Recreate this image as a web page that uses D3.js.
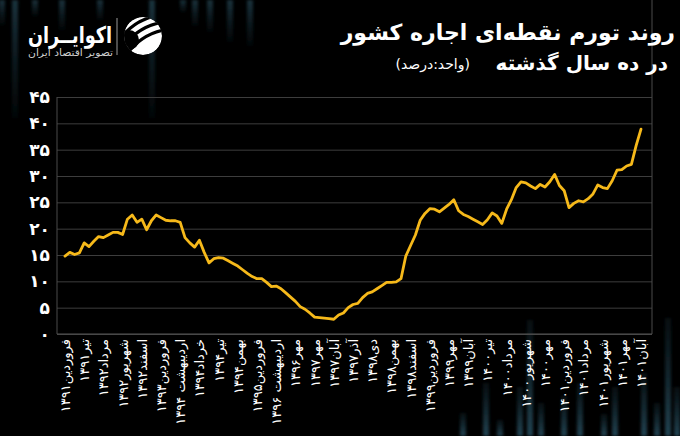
<!DOCTYPE html>
<html>
<head>
<meta charset="utf-8">
<script src="https://cdn.jsdelivr.net/npm/d3@7/dist/d3.min.js"></script>
<style>
  html, body { margin: 0; padding: 0; background: #000; }
  svg { display: block; }
  text { font-family: "DejaVu Sans", sans-serif; }
</style>
</head>
<body>
<svg id="chart" width="680" height="436"></svg>
<script>
// ---------- DATA ----------
const values = [
  14.8, 15.5, 15.1, 15.4, 17.3, 16.6, 17.6, 18.5, 18.3, 18.8,
  19.3, 19.3, 18.9, 21.8, 22.6, 21.2, 21.8, 19.8, 21.5, 22.6,
  22.1, 21.6, 21.5, 21.5, 21.2, 18.3, 17.3, 16.5, 17.8, 15.5,
  13.5, 14.3, 14.5, 14.4, 13.9, 13.4, 12.9, 12.2, 11.5, 10.9,
  10.5, 10.5, 9.8, 9.0, 9.1, 8.6, 7.8, 7.0, 6.2, 5.2,
  4.7, 4.0, 3.2, 3.1, 3.0, 2.9, 2.8, 3.6, 4.0, 5.0,
  5.6, 5.8, 6.9, 7.7, 8.0, 8.6, 9.2, 9.8, 9.8, 9.9,
  10.5, 14.8, 16.8, 18.8, 21.6, 22.9, 23.8, 23.7, 23.2, 23.9,
  24.6, 25.5, 23.4, 22.7, 22.3, 21.8, 21.3, 20.8, 21.7, 23.0,
  22.4, 21.0, 23.7, 25.5, 27.8, 28.9, 28.7, 28.1, 27.6, 28.4,
  27.9, 28.9, 30.3, 28.2, 27.2, 24.0, 24.8, 25.3, 25.1, 25.7,
  26.6, 28.3, 27.8, 27.6, 29.1, 31.1, 31.2, 31.9, 32.2, 35.8,
  38.9
];
const xTickLabels = [
  "فروردین۱۳۹۱", "تیر۱۳۹۱", "مرداد۱۳۹۲", "شهریور۱۳۹۲", "اسفند۱۳۹۲",
  "فروردین۱۳۹۳", "اردیبهشت ۱۳۹۴", "خرداد۱۳۹۴", "تیر۱۳۹۴", "بهمن۱۳۹۴",
  "فروردین۱۳۹۵", "اردیبهشت ۱۳۹۶", "مهر۱۳۹۶", "مهر۱۳۹۷", "آبان۱۳۹۷",
  "آذر۱۳۹۷", "دی۱۳۹۸", "بهمن۱۳۹۸", "اسفند۱۳۹۸", "فروردین۱۳۹۹",
  "مهر۱۳۹۹", "آبان۱۳۹۹", "تیر۱۴۰۰", "مرداد۱۴۰۰", "شهریور۱۴۰۰",
  "مهر۱۴۰۰", "فروردین۱۴۰۱", "مرداد۱۴۰۱", "شهریور۱۴۰۱", "مهر۱۴۰۱",
  "آبان۱۴۰۱"
];
const labelEvery = 4;
const yTicks = [0, 5, 10, 15, 20, 25, 30, 35, 40, 45];
const yTickLabels = ["۰", "۵", "۱۰", "۱۵", "۲۰", "۲۵", "۳۰", "۳۵", "۴۰", "۴۵"];
const titleLine1 = "روند تورم نقطه‌ای اجاره کشور";
const titleLine2 = "در ده سال گذشته";
const unitText = "(واحد:درصد)";
const brandName = "اکوایــران";
const brandTag = "تصویر اقتصاد ایران";

// decorative faint background bars (x position, top/bottom extent)
const decorTop = [[2,25],[15,118],[35,16],[62,30],[100,20],[152,118],[183,12],[195,26],[210,32],[230,42],[250,46]];
const decorBottom = [[463,413],[486,383],[500,420],[520,387],[530,320],[541,403],[564,396],[580,383],[604,414],[615,387],[644,373],[657,403],[668,318],[677,387]];

// ---------- LAYOUT ----------
const svg = d3.select("#chart");
const W = 680, H = 436;
const plot = { left: 57, right: 652, top: 97, bottom: 334 };

svg.append("rect").attr("width", W).attr("height", H).attr("fill", "#000");

const defs = svg.append("defs");
const gTop = defs.append("linearGradient").attr("id", "gTop").attr("x1", 0).attr("y1", 0).attr("x2", 0).attr("y2", 1);
gTop.append("stop").attr("offset", "0%").attr("stop-color", "#2a5466").attr("stop-opacity", 0.6);
gTop.append("stop").attr("offset", "100%").attr("stop-color", "#1b3a47").attr("stop-opacity", 0.1);
const gBot = defs.append("linearGradient").attr("id", "gBot").attr("x1", 0).attr("y1", 0).attr("x2", 0).attr("y2", 1);
gBot.append("stop").attr("offset", "0%").attr("stop-color", "#1b3a47").attr("stop-opacity", 0.25);
gBot.append("stop").attr("offset", "100%").attr("stop-color", "#2a5466").attr("stop-opacity", 0.8);
defs.append("filter").attr("id", "blur").append("feGaussianBlur").attr("stdDeviation", 1.4);

const deco = svg.append("g").attr("filter", "url(#blur)");
deco.selectAll("rect.t").data(decorTop).join("rect").attr("class", "t")
  .attr("x", d => d[0] - 3).attr("width", 6).attr("y", 0).attr("height", d => d[1])
  .attr("fill", "url(#gTop)");
deco.selectAll("rect.b").data(decorBottom).join("rect").attr("class", "b")
  .attr("x", d => d[0] - 3).attr("width", 6).attr("y", d => d[1]).attr("height", d => H - d[1])
  .attr("fill", "url(#gBot)");

// ---------- SCALES ----------
const x = d3.scaleLinear().domain([0, values.length - 1]).range([65, 641]);
const y = d3.scaleLinear().domain([0, 45]).range([plot.bottom, plot.top]);

// grid + y axis
const yAxis = d3.axisLeft(y).tickValues(yTicks)
  .tickSize(-(plot.right - plot.left)).tickPadding(7)
  .tickFormat((d, i) => yTickLabels[i]);
const gy = svg.append("g").attr("transform", `translate(${plot.left},0)`).call(yAxis);
gy.select(".domain").remove();
gy.selectAll(".tick line").attr("stroke", "#3d3d3d").attr("stroke-width", 1);
gy.selectAll(".tick text").attr("fill", "#fff").attr("font-size", 17).attr("font-weight", "bold")
  .attr("font-family", "DejaVu Sans");

// frame
svg.append("line").attr("x1", plot.left).attr("x2", plot.left).attr("y1", plot.top).attr("y2", plot.bottom).attr("stroke", "#4a4a4a");
svg.append("line").attr("x1", plot.right).attr("x2", plot.right).attr("y1", 0).attr("y2", plot.bottom).attr("stroke", "#4a4a4a");
svg.append("line").attr("x1", plot.left).attr("x2", plot.right).attr("y1", plot.bottom).attr("y2", plot.bottom).attr("stroke", "#555");

// x axis
const xAxis = d3.axisBottom(x)
  .tickValues(d3.range(0, values.length, labelEvery))
  .tickSize(0)
  .tickFormat((d, i) => xTickLabels[i]);
const gx = svg.append("g").attr("transform", `translate(0,${plot.bottom})`).call(xAxis);
gx.select(".domain").remove();
gx.selectAll(".tick text")
  .attr("transform", "rotate(-90)")
  .attr("x", -5).attr("y", 0).attr("dy", "0.35em")
  .attr("text-anchor", "end")
  .attr("fill", "#fff").attr("font-size", 13)
  .attr("font-family", "DejaVu Sans");

// line
const line = d3.line().x((d, i) => x(i)).y(d => y(d)).curve(d3.curveLinear);
svg.append("path").datum(values)
  .attr("d", line).attr("fill", "none")
  .attr("stroke", "#f6b91a").attr("stroke-width", 2.8)
  .attr("stroke-linejoin", "round").attr("stroke-linecap", "round");

// ---------- TITLES ----------
function fitText(sel, len) {
  sel.attr("textLength", len).attr("lengthAdjust", "spacingAndGlyphs");
  return sel;
}
svg.append("text").attr("x", 675).attr("y", 40).attr("text-anchor", "end")
  .attr("fill", "#fff").attr("font-size", 22).attr("font-weight", "bold")
  .attr("font-family", "DejaVu Sans").text(titleLine1);
svg.append("text").attr("x", 668).attr("y", 70).attr("text-anchor", "end")
  .attr("fill", "#fff").attr("font-size", 20).attr("font-weight", "bold")
  .attr("font-family", "DejaVu Sans Condensed").text(titleLine2);
svg.append("text").attr("x", 470).attr("y", 69).attr("text-anchor", "end")
  .attr("fill", "#fff").attr("font-size", 14)
  .attr("font-family", "DejaVu Sans Condensed").text(unitText);

// ---------- BRAND ----------
const brand = svg.append("g");
fitText(brand.append("text").attr("x", 112).attr("y", 43).attr("text-anchor", "end")
  .attr("fill", "#fff").attr("font-size", 23).attr("font-weight", "bold").text(brandName), 84);
fitText(brand.append("text").attr("x", 113).attr("y", 56).attr("text-anchor", "end")
  .attr("fill", "#cfcfcf").attr("font-size", 10).text(brandTag), 85);
brand.append("line").attr("x1", 117).attr("x2", 117).attr("y1", 18).attr("y2", 55)
  .attr("stroke", "#9a9a9a").attr("stroke-width", 1);
// icon
const ic = brand.append("g").attr("transform", "translate(143,36)");
defs.append("clipPath").attr("id", "icClip").append("circle").attr("r", 19);
const icg = ic.append("g").attr("clip-path", "url(#icClip)");
icg.append("circle").attr("r", 19).attr("fill", "#fff");
[-8, 0, 8].forEach(o => {
  icg.append("path")
    .attr("d", `M -26 ${o + 2} Q 0 ${o - 12} 26 ${o - 2}`)
    .attr("transform", "rotate(-28)")
    .attr("fill", "none").attr("stroke", "#000").attr("stroke-width", 3.2);
});
icg.append("circle").attr("cx", -14).attr("cy", 4).attr("r", 10).attr("fill", "#000");
</script>
</body>
</html>
